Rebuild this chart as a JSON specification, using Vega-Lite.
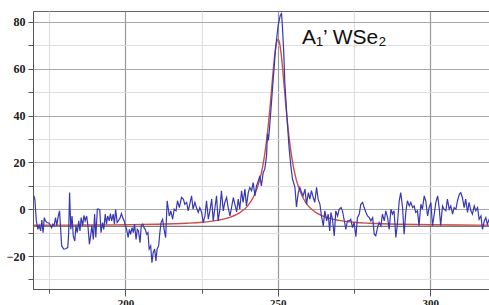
{
  "$schema": "https://vega.github.io/schema/vega-lite/v6.json",
  "autosize": "none",
  "width": 458,
  "height": 278,
  "padding": {"left": 33, "top": 11, "right": 0, "bottom": 16},
  "background": "white",
  "config": {"view": {"stroke": "#666", "strokeWidth": 1}},
  "datasets": {
    "raw": [
      {"x":170.0,"y":5.7},{"x":170.3,"y":4.3},{"x":170.8,"y":-5},{"x":171.3,"y":-8.6},{"x":171.7,"y":-6.9},{"x":172.2,"y":-9.3},{"x":172.6,"y":-4.6},{"x":173.0,"y":-10},{"x":173.4,"y":-3.6},{"x":173.8,"y":-5},{"x":174.3,"y":-5.7},{"x":175.0,"y":-6},{"x":175.8,"y":-7.9},{"x":176.2,"y":-6.4},{"x":176.6,"y":-7},{"x":177.1,"y":-3.6},{"x":177.5,"y":-7},{"x":178.0,"y":-2.9},{"x":178.4,"y":-0.7},{"x":178.7,"y":-7},{"x":179.1,"y":-15.7},{"x":179.8,"y":-17},{"x":180.4,"y":-16.9},{"x":181.1,"y":-16.4},{"x":181.4,"y":-10},{"x":181.7,"y":7.1},{"x":182.1,"y":-8.6},{"x":182.5,"y":-2.9},{"x":182.9,"y":-11.4},{"x":183.4,"y":-13.6},{"x":183.8,"y":-7},{"x":184.2,"y":-10},{"x":184.7,"y":-5},{"x":185.1,"y":-9.3},{"x":185.5,"y":-3.6},{"x":186.0,"y":-7},{"x":186.4,"y":-2.6},{"x":186.8,"y":-5},{"x":187.3,"y":-2.9},{"x":187.7,"y":-7},{"x":188.2,"y":-15},{"x":188.6,"y":-11.4},{"x":189.0,"y":-7},{"x":189.5,"y":-12.9},{"x":189.9,"y":-2.1},{"x":190.3,"y":-12.1},{"x":190.8,"y":0},{"x":191.2,"y":0},{"x":191.6,"y":-0.3},{"x":192.0,"y":-10},{"x":192.5,"y":-5.7},{"x":192.9,"y":-8.6},{"x":193.4,"y":-2.1},{"x":193.8,"y":-6.4},{"x":194.2,"y":-2.9},{"x":194.7,"y":-5},{"x":195.1,"y":-1.9},{"x":195.5,"y":-5},{"x":196.0,"y":-2.1},{"x":196.4,"y":-6.4},{"x":196.8,"y":0},{"x":197.3,"y":-5.7},{"x":197.7,"y":-5},{"x":198.3,"y":-3.6},{"x":198.7,"y":-1.9},{"x":199.1,"y":-3.6},{"x":199.6,"y":-5},{"x":200.0,"y":-7},{"x":200.4,"y":-8.6},{"x":200.9,"y":-12.1},{"x":201.3,"y":-8.6},{"x":201.7,"y":-10.7},{"x":202.2,"y":-7.9},{"x":202.6,"y":-10},{"x":203.0,"y":-6.4},{"x":203.5,"y":-12.9},{"x":203.9,"y":-8.6},{"x":204.3,"y":-9.3},{"x":204.8,"y":-14.3},{"x":205.2,"y":-7},{"x":205.7,"y":-6.4},{"x":206.1,"y":-7.9},{"x":206.5,"y":-8.6},{"x":207.0,"y":-10.7},{"x":207.4,"y":-10},{"x":207.8,"y":-17},{"x":208.3,"y":-15.7},{"x":208.7,"y":-22.9},{"x":209.1,"y":-18.6},{"x":209.6,"y":-17},{"x":210.0,"y":-22.1},{"x":210.4,"y":-17},{"x":210.9,"y":-15.7},{"x":211.3,"y":-10},{"x":211.7,"y":-5.7},{"x":212.2,"y":-4.3},{"x":212.7,"y":-8.6},{"x":213.2,"y":-12.1},{"x":213.7,"y":3.6},{"x":214.4,"y":-2.9},{"x":214.9,"y":-0.7},{"x":215.5,"y":-4.3},{"x":216.0,"y":0},{"x":216.6,"y":-0.7},{"x":217.1,"y":3.6},{"x":217.7,"y":0.7},{"x":218.4,"y":5},{"x":219.0,"y":4.3},{"x":219.5,"y":2.1},{"x":220.1,"y":2.9},{"x":220.6,"y":-0.7},{"x":221.1,"y":2.1},{"x":221.7,"y":5.7},{"x":222.2,"y":0},{"x":222.8,"y":2.9},{"x":223.3,"y":0.7},{"x":223.9,"y":-1.4},{"x":224.4,"y":0.7},{"x":225.0,"y":-1.4},{"x":225.5,"y":-5.7},{"x":226.1,"y":-2.9},{"x":226.6,"y":3.6},{"x":227.2,"y":-4.3},{"x":227.7,"y":-0.7},{"x":228.3,"y":4.3},{"x":228.8,"y":-5},{"x":229.3,"y":0},{"x":229.9,"y":5.7},{"x":230.4,"y":-5},{"x":231.0,"y":0},{"x":231.5,"y":7.9},{"x":232.1,"y":-0.7},{"x":232.6,"y":2.9},{"x":233.2,"y":5},{"x":233.7,"y":0.7},{"x":234.3,"y":-2.9},{"x":234.8,"y":0.7},{"x":235.4,"y":5},{"x":235.9,"y":2.1},{"x":236.5,"y":-1.1},{"x":237.0,"y":4.3},{"x":237.5,"y":0},{"x":238.1,"y":7.9},{"x":238.6,"y":2.9},{"x":239.2,"y":8.6},{"x":239.7,"y":1.4},{"x":240.3,"y":7.1},{"x":240.8,"y":9.3},{"x":241.4,"y":7.9},{"x":241.9,"y":11.4},{"x":242.5,"y":5.7},{"x":243.0,"y":10},{"x":243.6,"y":12.1},{"x":244.1,"y":14.3},{"x":244.6,"y":10},{"x":245.2,"y":15.7},{"x":245.7,"y":17},{"x":246.3,"y":22.9},{"x":246.6,"y":32.3},{"x":246.9,"y":29.4},{"x":247.3,"y":35.2},{"x":248.3,"y":52.3},{"x":249.3,"y":69.4},{"x":250.1,"y":78.6},{"x":250.8,"y":82.9},{"x":251.2,"y":83.6},{"x":251.5,"y":78},{"x":251.9,"y":67.9},{"x":252.3,"y":53.7},{"x":252.9,"y":40.9},{"x":253.7,"y":26},{"x":254.3,"y":18},{"x":254.8,"y":12.9},{"x":255.6,"y":9.3},{"x":256.1,"y":1},{"x":256.7,"y":7.1},{"x":257.2,"y":9.3},{"x":257.8,"y":7.1},{"x":258.3,"y":5.7},{"x":258.9,"y":8.6},{"x":259.4,"y":2.1},{"x":260.0,"y":7.1},{"x":260.5,"y":4.3},{"x":261.0,"y":7.9},{"x":261.6,"y":5},{"x":262.1,"y":2.9},{"x":262.7,"y":9.3},{"x":263.2,"y":4.3},{"x":263.8,"y":2.1},{"x":264.3,"y":-2.9},{"x":264.9,"y":-7.1},{"x":265.4,"y":-0.7},{"x":266.0,"y":-5},{"x":266.5,"y":-2.1},{"x":267.0,"y":-9.3},{"x":267.4,"y":-1.4},{"x":267.9,"y":-4.3},{"x":268.5,"y":-11.4},{"x":269.0,"y":-0.7},{"x":269.6,"y":-2.9},{"x":270.1,"y":0},{"x":270.7,"y":0.7},{"x":271.2,"y":-0.7},{"x":271.7,"y":-4.3},{"x":272.3,"y":-8.6},{"x":272.8,"y":-5},{"x":273.4,"y":-5},{"x":273.9,"y":-4.3},{"x":274.5,"y":-7.9},{"x":275.0,"y":-5.7},{"x":275.6,"y":-11.7},{"x":276.1,"y":-3.6},{"x":276.7,"y":-2.1},{"x":277.2,"y":2.1},{"x":277.8,"y":2.9},{"x":278.3,"y":0.7},{"x":278.9,"y":-1.4},{"x":279.4,"y":-2.9},{"x":280.0,"y":-3.6},{"x":280.5,"y":-5},{"x":281.1,"y":-3.6},{"x":281.6,"y":-10.7},{"x":282.1,"y":-11.4},{"x":282.7,"y":-7.9},{"x":283.2,"y":-5.7},{"x":283.8,"y":-7.1},{"x":284.3,"y":-2.1},{"x":284.9,"y":-5},{"x":285.4,"y":-0.7},{"x":286.0,"y":-3.6},{"x":286.5,"y":-8.6},{"x":287.1,"y":0},{"x":287.6,"y":-2.1},{"x":288.1,"y":-0.7},{"x":288.7,"y":-12.1},{"x":289.2,"y":-6.4},{"x":289.8,"y":3.6},{"x":290.3,"y":7.1},{"x":290.9,"y":0.7},{"x":291.4,"y":-10.7},{"x":292.0,"y":-0.7},{"x":292.5,"y":3.6},{"x":293.1,"y":1.4},{"x":293.6,"y":2.9},{"x":294.2,"y":0.7},{"x":294.7,"y":1.4},{"x":295.2,"y":-1.4},{"x":295.8,"y":-0.7},{"x":296.3,"y":-7.1},{"x":296.9,"y":2.1},{"x":297.4,"y":0},{"x":298.0,"y":5.7},{"x":298.5,"y":3.6},{"x":299.1,"y":-2.9},{"x":299.6,"y":0.7},{"x":300.2,"y":2.9},{"x":300.7,"y":-7.1},{"x":301.3,"y":-2.1},{"x":301.8,"y":2.9},{"x":302.4,"y":5.7},{"x":302.9,"y":0.7},{"x":303.4,"y":-7.1},{"x":304.0,"y":1.4},{"x":304.5,"y":0},{"x":305.1,"y":-0.7},{"x":305.6,"y":4.3},{"x":306.2,"y":0},{"x":306.7,"y":1.4},{"x":307.3,"y":-2.1},{"x":307.8,"y":0.7},{"x":308.4,"y":0},{"x":308.9,"y":3.6},{"x":309.5,"y":6.4},{"x":310.0,"y":7.1},{"x":310.5,"y":5},{"x":311.1,"y":0.7},{"x":311.6,"y":4.3},{"x":312.2,"y":-1.4},{"x":312.7,"y":2.9},{"x":313.3,"y":-0.7},{"x":313.8,"y":-2.1},{"x":314.4,"y":1.4},{"x":314.9,"y":-0.7},{"x":315.5,"y":0.7},{"x":316.0,"y":-4.3},{"x":316.6,"y":-2.9},{"x":317.1,"y":-8.6},{"x":317.7,"y":-5},{"x":318.2,"y":-3.6},{"x":318.7,"y":-6.4},{"x":319.3,"y":-4.3},{"x":319.8,"y":-3}
    ],
    "fit": [
      {"x":170,"y":-6.86},{"x":180,"y":-6.81},{"x":190,"y":-6.75},{"x":200,"y":-6.63},{"x":210,"y":-6.43},{"x":220,"y":-6.0},{"x":225,"y":-5.6},{"x":230,"y":-4.8},{"x":234,"y":-3.6},{"x":237,"y":-1.9},{"x":240,"y":1.2},{"x":242,"y":5.2},{"x":244,"y":12.3},{"x":245,"y":18.1},{"x":246,"y":26.3},{"x":247,"y":37.7},{"x":247.5,"y":44.6},{"x":248,"y":52.1},{"x":248.5,"y":59.6},{"x":249,"y":66.2},{"x":249.5,"y":70.8},{"x":250.1,"y":72.5},{"x":250.6,"y":70.8},{"x":251.1,"y":66.2},{"x":251.6,"y":59.6},{"x":252.1,"y":52.1},{"x":252.6,"y":44.6},{"x":253.1,"y":37.7},{"x":254.1,"y":26.3},{"x":255.1,"y":18.1},{"x":256.1,"y":12.3},{"x":258.1,"y":5.2},{"x":260.1,"y":1.2},{"x":263.1,"y":-1.9},{"x":266.1,"y":-3.6},{"x":270.1,"y":-4.8},{"x":275.1,"y":-5.6},{"x":280.1,"y":-6.0},{"x":290.1,"y":-6.43},{"x":300.1,"y":-6.63},{"x":310.1,"y":-6.75},{"x":320,"y":-6.81}
    ],
    "base": [{"y": -7.3}],
    "label": [{"x": 257.9, "y": 70.5, "t": "A₁’ WSe₂"}]
  },
  "layer": [
    {
      "data": {"name": "raw"},
      "mark": {"type": "line", "color": "#3535b0", "strokeWidth": 1.2, "opacity": 0},
      "encoding": {
        "x": {
          "field": "x", "type": "quantitative",
          "scale": {"domain": [169.7, 319.9], "nice": false, "zero": false},
          "axis": {
            "title": null,
            "values": [175, 200, 225, 250, 275, 300],
            "tickCount": 30,
            "labelExpr": "datum.value % 50 == 0 ? datum.label : ''",
            "grid": true,
            "gridColor": {"condition": {"test": "datum.value % 50 == 0", "value": "#999999"}, "value": "#dedede"},
            "gridWidth": 1.2,
            "tickColor": "#555555",
            "tickSize": {"condition": {"test": "datum.value % 50 == 0", "value": 7}, "value": 4},
            "domainColor": "#555555",
            "labelFont": "Liberation Serif",
            "labelFontWeight": "bold",
            "labelFontSize": 11,
            "labelColor": "#222222",
            "labelPadding": 1,
            "labelFlush": false,
            "labelOverlap": false
          }
        },
        "y": {
          "field": "y", "type": "quantitative",
          "scale": {"domain": [-34.1, 84.7], "nice": false, "zero": false},
          "axis": {
            "title": null,
            "values": [-30, -20, -10, 0, 10, 20, 30, 40, 50, 60, 70, 80],
            "tickCount": 30,
            "labelExpr": "abs(datum.value) % 20 == 0 ? datum.label : ''",
            "grid": true,
            "gridColor": {"condition": {"test": "abs(datum.value) % 20 == 0", "value": "#a8a8a8"}, "value": "#dedede"},
            "gridWidth": 1.2,
            "tickColor": "#555555",
            "tickSize": 5,
            "domainColor": "#555555",
            "labelFont": "Liberation Serif",
            "labelFontWeight": "bold",
            "labelFontSize": 12,
            "labelColor": "#1a1a1a",
            "labelPadding": 3,
            "labelFlush": false,
            "labelOverlap": false
          }
        }
      }
    },
    {
      "data": {"name": "base"},
      "mark": {"type": "rule", "color": "#555555", "strokeWidth": 1},
      "encoding": {
        "y": {"field": "y", "type": "quantitative"}
      }
    },
    {
      "data": {"name": "fit"},
      "mark": {"type": "line", "color": "#c8504a", "strokeWidth": 1.4, "interpolate": "monotone"},
      "encoding": {
        "x": {"field": "x", "type": "quantitative"},
        "y": {"field": "y", "type": "quantitative"}
      }
    },
    {
      "data": {"name": "raw"},
      "mark": {"type": "line", "color": "#3838b4", "strokeWidth": 1.2},
      "encoding": {
        "x": {"field": "x", "type": "quantitative"},
        "y": {"field": "y", "type": "quantitative"}
      }
    },
    {
      "data": {"name": "label"},
      "mark": {"type": "text", "align": "left", "baseline": "alphabetic", "fontSize": 21, "font": "Liberation Sans, DejaVu Sans", "color": "#111111"},
      "encoding": {
        "x": {"field": "x", "type": "quantitative"},
        "y": {"field": "y", "type": "quantitative"},
        "text": {"field": "t"}
      }
    }
  ]
}
